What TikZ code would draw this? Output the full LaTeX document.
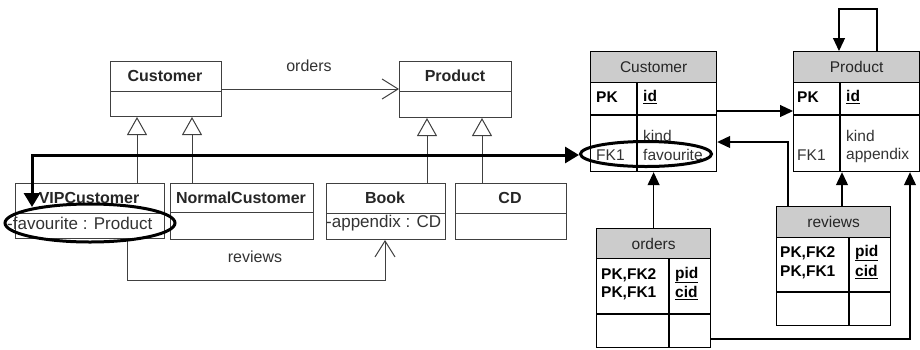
\documentclass[tikz,border=0pt]{standalone}
\usepackage{fontspec}
\setmainfont{Liberation Sans}
\usetikzlibrary{arrows.meta,shapes.geometric}
\tikzset{
  umlbox/.style={draw=black!75, line width=1pt, inner sep=0pt, anchor=north west},
  umlline/.style={draw=black!75, line width=1pt},
  gen/.style={umlline, -{Triangle[open, width=20pt, length=18pt, line width=1pt]}},
  assoc/.style={umlline, -{Straight Barb[width=20pt, length=16pt, line width=1pt]}},
  umlname/.style={font=\fontsize{16}{19}\selectfont\bfseries, text=black!85, inner sep=0pt},
  umltxt/.style={font=\fontsize{17}{20}\selectfont, text=black!80, inner sep=0pt, anchor=west},
  umllabel/.style={font=\fontsize{16}{19}\selectfont, text=black!80, inner sep=0pt},
  erbox/.style={draw=black, line width=1.2pt, inner sep=0pt, anchor=north west},
  erhead/.style={fill=black!20, draw=black, line width=1.2pt, inner sep=0pt, anchor=north west},
  erline/.style={draw=black, line width=1.2pt},
  erarrow/.style={erline, -{Triangle[width=12pt, length=13pt]}},
  ername/.style={font=\fontsize{15.5}{18}\selectfont, text=black!85, inner sep=0pt},
  erkey/.style={font=\fontsize{15.5}{18}\selectfont\bfseries, text=black, inner sep=0pt, anchor=west},
  ertxt/.style={font=\fontsize{15.5}{18}\selectfont, text=black!80, inner sep=0pt, anchor=west},
  hilite/.style={draw=black, line width=3pt},
  bigarrow/.style={draw=black, line width=3pt, {Triangle[width=16pt, length=14pt]}-{Triangle[width=16pt, length=14pt]}},
}
\newcommand{\ul}[1]{\underline{#1}}
\begin{document}
\begin{tikzpicture}[x=1pt, y=-1pt]
\useasboundingbox[fill=white] (0,0) rectangle (920,349);

% ---------- UML ----------
\node[umlbox, minimum width=111pt, minimum height=55pt] (cust) at (110,61) {};
\draw[umlline] (110,91) -- (221,91);
\node[umlname] (custn) at (165,76) {Customer};

\node[umlbox, minimum width=112pt, minimum height=56pt] (prod) at (399,61) {};
\draw[umlline] (399,91) -- (511,91);
\node[umlname] (prodn) at (455,76) {Product};

\node[umlbox, minimum width=149pt, minimum height=55pt] (vip) at (15,183) {};
\draw[umlline] (15,213) -- (164,213);
\node[umlname] (vipn) at (89,198) {VIPCustomer};
\node[umltxt] (vipa) at (7,223) {-favourite : Product};

\node[umlbox, minimum width=143pt, minimum height=56pt] (norm) at (170,183) {};
\draw[umlline] (170,212) -- (313,212);
\node[umlname] (normn) at (241,198) {NormalCustomer};

\node[umlbox, minimum width=119pt, minimum height=56pt] (book) at (326,183) {};
\draw[umlline] (326,213) -- (445,213);
\node[umlname] (bookn) at (385,198) {Book};
\node[umltxt] (booka) at (326,223) {-appendix : CD};

\node[umlbox, minimum width=111pt, minimum height=56pt] (cd) at (455,183) {};
\draw[umlline] (455,213) -- (566,213);
\node[umlname] (cdn) at (510,198) {CD};

% generalizations
\draw[gen] (137,0 |- vip.north) -- (137,0 |- cust.south);
\draw[gen] (192,0 |- norm.north) -- (192,0 |- cust.south);
\draw[gen] (427,0 |- book.north) -- (427,0 |- prod.south);
\draw[gen] (482,0 |- cd.north) -- (482,0 |- prod.south);

% associations
\draw[assoc] (cust.east |- 0,89) -- (prod.west |- 0,89);
\node[umllabel] (ordl) at (309,66) {orders};
\draw[assoc] (127,0 |- vip.south) |- (385,280) -- (385,0 |- book.south);
\node[umllabel] (revl) at (255,257) {reviews};

% ---------- ER ----------
% Customer table
\node[erbox, minimum width=126pt, minimum height=120pt] (ecust) at (590,51) {};
\node[erhead, minimum width=126pt, minimum height=31pt] (ecusth) at (590,51) {};
\draw[erline] (590,115) -- (716,115);
\draw[erline] (637,82) -- (637,171);
\node[ername] at (ecusth.center) {Customer};
\node[erkey] at (596,97) {PK};
\node[erkey] at (643,97) {\ul{id}};
\node[ertxt] at (643,136) {kind};
\node[ertxt] at (596,155) {FK1};
\node[ertxt] at (643,155) {favourite};

% Product table
\node[erbox, minimum width=126pt, minimum height=120pt] (eprod) at (793,51) {};
\node[erhead, minimum width=126pt, minimum height=31pt] (eprodh) at (793,51) {};
\draw[erline] (793,115) -- (919,115);
\draw[erline] (840,82) -- (840,171);
\node[ername] at (eprodh.center) {Product};
\node[erkey] at (797,97) {PK};
\node[erkey] at (846,97) {\ul{id}};
\node[ertxt] at (846,136) {kind};
\node[ertxt] at (797,155) {FK1};
\node[ertxt] at (846,155) {appendix};

% orders table
\node[erbox, minimum width=114pt, minimum height=119pt] (eord) at (596,228) {};
\node[erhead, minimum width=114pt, minimum height=30pt] (eordh) at (596,228) {};
\draw[erline] (596,314) -- (710,314);
\draw[erline] (669,258) -- (669,347);
\node[ername] at (eordh.center) {orders};
\node[erkey] at (601,275) {PK,FK2};
\node[erkey] at (601,293) {PK,FK1};
\node[erkey] at (675,275) {\ul{pid}};
\node[erkey] at (675,293) {\ul{cid}};

% reviews table
\node[erbox, minimum width=114pt, minimum height=119pt] (erev) at (776,206) {};
\node[erhead, minimum width=114pt, minimum height=31pt] (erevh) at (776,206) {};
\draw[erline] (776,292) -- (890,292);
\draw[erline] (849,237) -- (849,325);
\node[ername] at (erevh.center) {reviews};
\node[erkey] at (780,253) {PK,FK2};
\node[erkey] at (780,272) {PK,FK1};
\node[erkey] at (855,253) {\ul{pid}};
\node[erkey] at (855,272) {\ul{cid}};

% ER connectors
\draw[erarrow] (ecust.east |- 0,111) -- (eprod.west |- 0,111);
\draw[erarrow] (877,0 |- eprod.north) |- (839,9) -- (839,0 |- eprod.north);
\draw[erarrow] (842,0 |- erev.north) -- (842,0 |- eprod.south);
\draw[erarrow] (788,0 |- erev.north) |- (ecust.east |- 0,142);
\draw[erarrow] (eord.north) -- (ecust.south);
\draw[erarrow] (eord.east |- 0,339) -| (910,0 |- eprod.south);

% ---------- highlights ----------
\node[hilite, ellipse, minimum width=170pt, minimum height=38pt, inner sep=0pt] (ell1) at (90,223) {};
\node[hilite, ellipse, minimum width=131pt, minimum height=25pt, inner sep=0pt] (ell2) at (646,154) {};
\coordinate (tipL) at (32,207);
\coordinate (tipR) at (ell2.west);
\draw[bigarrow] (tipL) |- (tipR |- 0,155);
\end{tikzpicture}
\end{document}
